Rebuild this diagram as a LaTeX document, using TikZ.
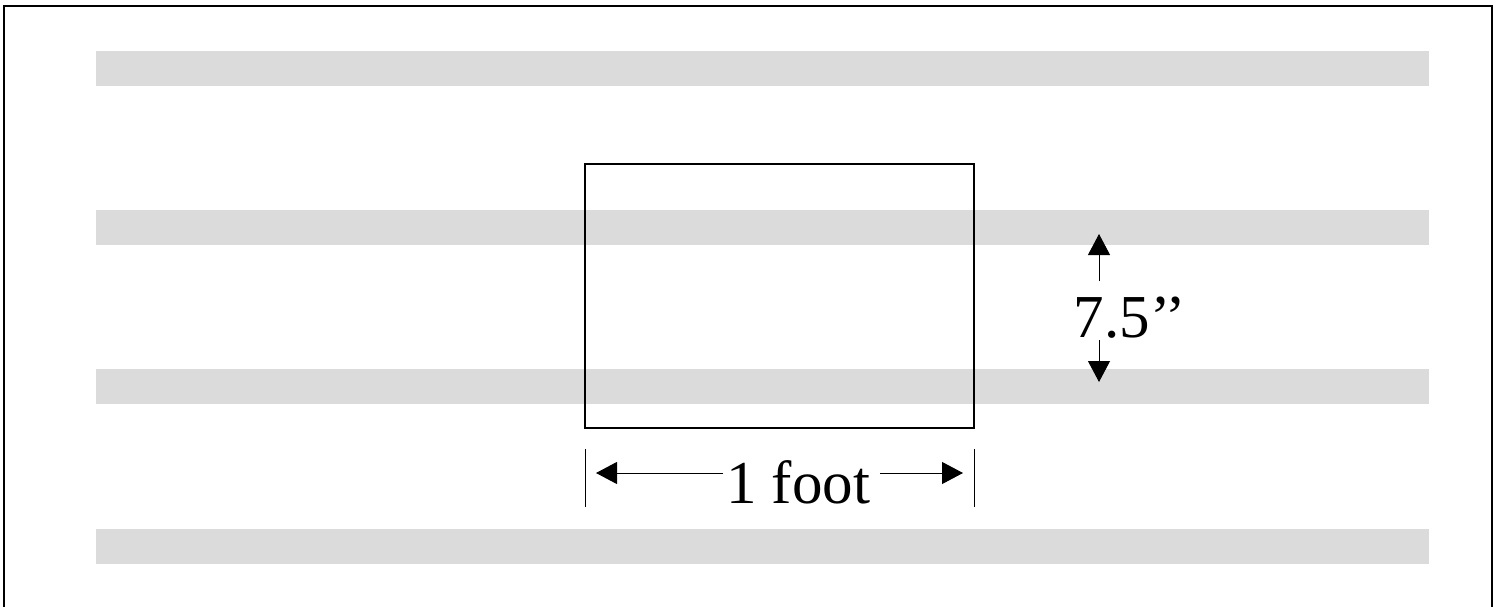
\documentclass[tikz,border=0pt]{standalone}
\usepackage{fontspec}
\setmainfont{Liberation Serif}
\usetikzlibrary{arrows.meta}
\begin{document}
\begin{tikzpicture}[x=1pt,y=-1pt,
  bar/.style={fill=black!14,draw=none},
  dim/.style={line width=1pt,-{Triangle[length=21pt,width=22pt]}},
  tick/.style={line width=1pt},
  lbl/.style={font=\fontsize{61}{72}\selectfont,inner sep=0pt,anchor=base}]
\useasboundingbox (0,0) rectangle (1498,607);
\draw[line width=1.6pt] (4,612) -- (4,6) -- (1492,6) -- (1492,612);
\foreach \y in {51,210,369,529}
  \fill[bar] (96,\y) rectangle (1429,\y+35);
\node[draw,line width=1.3pt,minimum width=389pt,minimum height=264pt,inner sep=0pt] (box) at (779.5,296) {};
% horizontal dimension
\coordinate (tl1) at (585,449); \coordinate (tl2) at (585,507);
\coordinate (tr1) at (974,449); \coordinate (tr2) at (974,507);
\draw[tick] (tl1) -- (tl2);
\draw[tick] (tr1) -- (tr2);
\node[lbl] (foot) at (798,503) {1 foot};
\coordinate (hl) at (596,473); \coordinate (hr) at (963,473);
\coordinate (hl0) at (723,473); \coordinate (hr0) at (880,473);
\draw[dim] (hl0) -- (hl);
\draw[dim] (hr0) -- (hr);
% vertical dimension
\node[lbl] (h) at (1130,337) {7.5’’};
\coordinate (vu) at (1099,234); \coordinate (vu0) at (1099,281);
\coordinate (vd) at (1099,382); \coordinate (vd0) at (1099,340);
\draw[dim] (vu0) -- (vu);
\draw[dim] (vd0) -- (vd);
\end{tikzpicture}
\end{document}
